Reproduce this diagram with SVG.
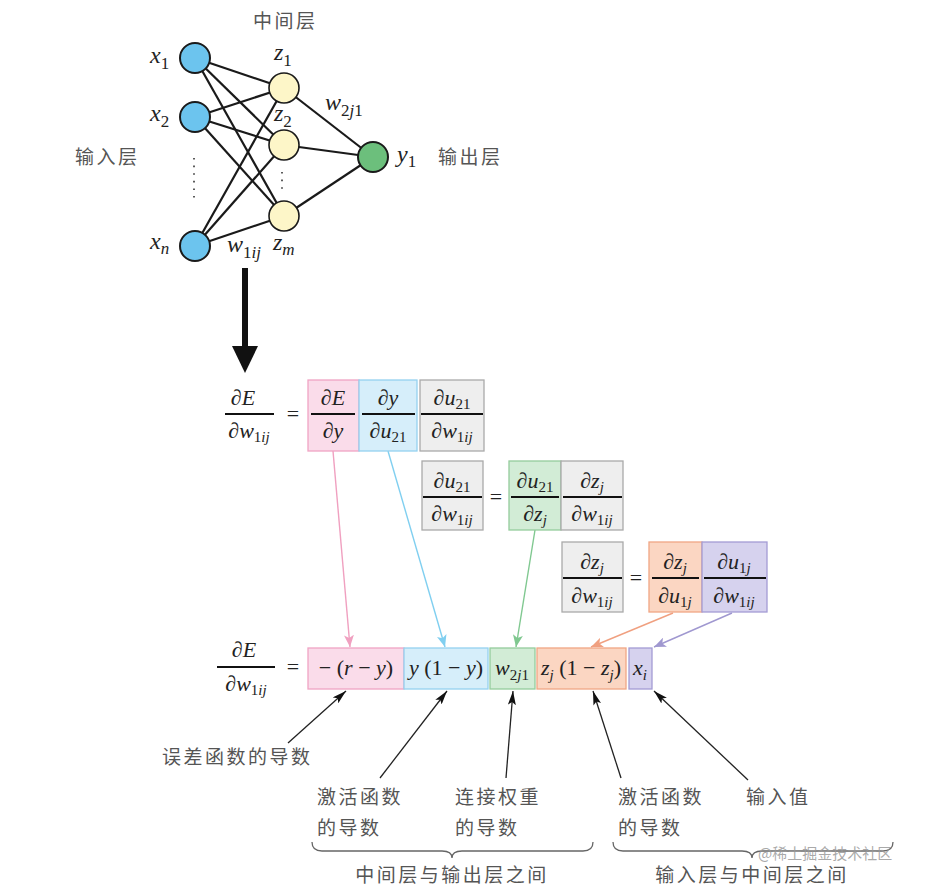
<svg xmlns="http://www.w3.org/2000/svg" width="944" height="888" viewBox="0 0 944 888">
<style>
.m{font-family:"Liberation Serif","DejaVu Serif",serif;font-size:22px;fill:#222}
.n{font-size:24px}
.i{font-style:italic}
.s{font-size:15px}
.ns{font-size:17px}
.cn{font-family:"Noto Sans CJK SC","Noto Sans",sans-serif;font-size:19px;fill:#555;letter-spacing:2.5px}
.edge{stroke:#1a1a1a;stroke-width:2.2;fill:none}
.fl{stroke:#111;stroke-width:2}
.pk{fill:#fadcea;stroke:#f0a4c4;stroke-width:1.3}
.bl{fill:#d6eefa;stroke:#94d2f0;stroke-width:1.3}
.gy{fill:#eeeeee;stroke:#aaaaaa;stroke-width:1.3}
.gn{fill:#d2ecd6;stroke:#94cc9c;stroke-width:1.3}
.or{fill:#fbd6c2;stroke:#f0a684;stroke-width:1.3}
.pu{fill:#d6d2ee;stroke:#a49cd4;stroke-width:1.3}
.blk{stroke:#222;stroke-width:1.3;fill:none}
.brace{stroke:#666;stroke-width:1.3;fill:none}
</style>
<defs>
<marker id="ab" viewBox="0 0 14 8" refX="14" refY="4" markerWidth="14" markerHeight="8" orient="auto" markerUnits="userSpaceOnUse"><path d="M0,0 L14,4 L0,8 L3,4 z" fill="#111"/></marker>
<marker id="apk" viewBox="0 0 12 10" refX="12" refY="5" markerWidth="12" markerHeight="10" orient="auto" markerUnits="userSpaceOnUse"><path d="M0,0 L12,5 L0,10 L3,5 z" fill="#f0a0c0"/></marker>
<marker id="abl" viewBox="0 0 12 10" refX="12" refY="5" markerWidth="12" markerHeight="10" orient="auto" markerUnits="userSpaceOnUse"><path d="M0,0 L12,5 L0,10 L3,5 z" fill="#80cff0"/></marker>
<marker id="agn" viewBox="0 0 12 10" refX="12" refY="5" markerWidth="12" markerHeight="10" orient="auto" markerUnits="userSpaceOnUse"><path d="M0,0 L12,5 L0,10 L3,5 z" fill="#80c890"/></marker>
<marker id="aor" viewBox="0 0 12 10" refX="12" refY="5" markerWidth="12" markerHeight="10" orient="auto" markerUnits="userSpaceOnUse"><path d="M0,0 L12,5 L0,10 L3,5 z" fill="#f0a080"/></marker>
<marker id="apu" viewBox="0 0 12 10" refX="12" refY="5" markerWidth="12" markerHeight="10" orient="auto" markerUnits="userSpaceOnUse"><path d="M0,0 L12,5 L0,10 L3,5 z" fill="#a098d0"/></marker>
</defs>
<rect width="944" height="888" fill="#ffffff"/>

<g id="connectors">
<g id="net-edges" class="edge">
<line x1="195" y1="58" x2="284" y2="88"/><line x1="195" y1="58" x2="284" y2="145"/><line x1="195" y1="58" x2="284" y2="216"/>
<line x1="195" y1="117" x2="284" y2="88"/><line x1="195" y1="117" x2="284" y2="145"/><line x1="195" y1="117" x2="284" y2="216"/>
<line x1="195" y1="246" x2="284" y2="88"/><line x1="195" y1="246" x2="284" y2="145"/><line x1="195" y1="246" x2="284" y2="216"/>
<line x1="284" y1="88" x2="373" y2="157"/><line x1="284" y1="145" x2="373" y2="157"/><line x1="284" y1="216" x2="373" y2="157"/>
</g>
<g id="big-arrow">
<rect x="242" y="268" width="6" height="80" fill="#111"/>
<path d="M232,346 L258,346 L245,373 z" fill="#111"/>
</g>
<g id="color-arrows" stroke-width="1.4" fill="none">
<line x1="333" y1="451" x2="350" y2="647" stroke="#f0a0c0" marker-end="url(#apk)"/>
<line x1="388" y1="451" x2="445" y2="647" stroke="#80cff0" marker-end="url(#abl)"/>
<line x1="535" y1="530" x2="516" y2="647" stroke="#80c890" marker-end="url(#agn)"/>
<line x1="673" y1="613" x2="591" y2="647" stroke="#f0a080" marker-end="url(#aor)"/>
<line x1="732" y1="613" x2="654" y2="647" stroke="#a098d0" marker-end="url(#apu)"/>
</g>
<g id="label-arrows" class="blk">
<line x1="288" y1="743" x2="346" y2="691" marker-end="url(#ab)"/>
<line x1="380" y1="778" x2="447" y2="691" marker-end="url(#ab)"/>
<line x1="506" y1="778" x2="513" y2="691" marker-end="url(#ab)"/>
<line x1="621" y1="778" x2="593" y2="691" marker-end="url(#ab)"/>
<line x1="748" y1="780" x2="654" y2="691" marker-end="url(#ab)"/>
</g>
</g>

<g id="node-x1"><circle cx="195" cy="58" r="15" fill="#6cc4ee" stroke="#1a1a1a" stroke-width="2"/>
<text class="m n" x="150" y="63"><tspan class="i">x</tspan><tspan class="ns" dy="6">1</tspan></text></g>
<g id="node-x2"><circle cx="195" cy="117" r="15" fill="#6cc4ee" stroke="#1a1a1a" stroke-width="2"/>
<text class="m n" x="150" y="121"><tspan class="i">x</tspan><tspan class="ns" dy="6">2</tspan></text></g>
<g id="dots-x"><line x1="194" y1="158" x2="194" y2="202" stroke="#333" stroke-width="1.6" stroke-dasharray="1.6,6"/></g>
<g id="node-xn"><circle cx="195" cy="246" r="15" fill="#6cc4ee" stroke="#1a1a1a" stroke-width="2"/>
<text class="m n" x="150" y="249"><tspan class="i">x</tspan><tspan class="ns i" dy="5">n</tspan></text></g>
<g id="node-z1"><circle cx="284" cy="88" r="15" fill="#fdf6c8" stroke="#1a1a1a" stroke-width="1.6"/>
<text class="m n" x="274" y="60"><tspan class="i">z</tspan><tspan class="ns" dy="6">1</tspan></text></g>
<g id="node-z2"><circle cx="284" cy="145" r="15" fill="#fdf6c8" stroke="#1a1a1a" stroke-width="1.6"/>
<text class="m n" x="274" y="121"><tspan class="i">z</tspan><tspan class="ns" dy="6">2</tspan></text></g>
<g id="dots-z"><line x1="282" y1="172" x2="282" y2="194" stroke="#333" stroke-width="1.6" stroke-dasharray="1.6,6"/></g>
<g id="node-zm"><circle cx="284" cy="216" r="15" fill="#fdf6c8" stroke="#1a1a1a" stroke-width="1.6"/>
<text class="m n" x="273" y="250"><tspan class="i">z</tspan><tspan class="ns i" dy="5">m</tspan></text></g>
<g id="node-y1"><circle cx="373" cy="157" r="15" fill="#6cbf7c" stroke="#1a1a1a" stroke-width="2"/>
<text class="m n" x="397" y="162"><tspan class="i">y</tspan><tspan class="ns" dy="5">1</tspan></text></g>
<g id="weights">
<text class="m n" x="325" y="110"><tspan class="i">w</tspan><tspan class="ns" dy="6">2</tspan><tspan class="ns i">j</tspan><tspan class="ns">1</tspan></text>
<text class="m n" x="227" y="252"><tspan class="i">w</tspan><tspan class="ns" dy="6">1</tspan><tspan class="ns i">ij</tspan></text>
</g>
<g id="layer-labels">
<text class="cn" x="253" y="28">中间层</text>
<text class="cn" x="75" y="164">输入层</text>
<text class="cn" x="438" y="164">输出层</text>
</g>

<g id="eq1">
<text class="m i" x="243" y="405" text-anchor="middle">∂E</text>
<line class="fl" x1="225" y1="414" x2="274" y2="414"/>
<text class="m" x="249" y="438" text-anchor="middle"><tspan class="i">∂w</tspan><tspan class="s" dy="4">1</tspan><tspan class="s i">ij</tspan></text>
<text class="m" x="293" y="421" text-anchor="middle">=</text>
<rect class="pk" x="308" y="380" width="51" height="71"/>
<rect class="bl" x="359" y="380" width="58" height="71"/>
<rect class="gy" x="420" y="380" width="64" height="71"/>
<line class="fl" x1="311" y1="414" x2="355" y2="414"/>
<line class="fl" x1="362" y1="414" x2="415" y2="414"/>
<line class="fl" x1="421" y1="414" x2="483" y2="414"/>
<text class="m i" x="333" y="405" text-anchor="middle">∂E</text>
<text class="m i" x="333" y="438" text-anchor="middle">∂y</text>
<text class="m i" x="388" y="405" text-anchor="middle">∂y</text>
<text class="m" x="388" y="438" text-anchor="middle"><tspan class="i">∂u</tspan><tspan class="s" dy="4">21</tspan></text>
<text class="m" x="452" y="405" text-anchor="middle"><tspan class="i">∂u</tspan><tspan class="s" dy="4">21</tspan></text>
<text class="m" x="452" y="438" text-anchor="middle"><tspan class="i">∂w</tspan><tspan class="s" dy="4">1</tspan><tspan class="s i">ij</tspan></text>
</g>

<g id="eq2">
<rect class="gy" x="422" y="461" width="61" height="69"/>
<line class="fl" x1="423" y1="497" x2="482" y2="497"/>
<text class="m" x="452" y="488" text-anchor="middle"><tspan class="i">∂u</tspan><tspan class="s" dy="4">21</tspan></text>
<text class="m" x="452" y="521" text-anchor="middle"><tspan class="i">∂w</tspan><tspan class="s" dy="4">1</tspan><tspan class="s i">ij</tspan></text>
<text class="m" x="496" y="504" text-anchor="middle">=</text>
<rect class="gn" x="509" y="461" width="52" height="69"/>
<rect class="gy" x="561" y="461" width="62" height="69"/>
<line class="fl" x1="511" y1="497" x2="559" y2="497"/>
<line class="fl" x1="563" y1="497" x2="622" y2="497"/>
<text class="m" x="535" y="488" text-anchor="middle"><tspan class="i">∂u</tspan><tspan class="s" dy="4">21</tspan></text>
<text class="m" x="535" y="521" text-anchor="middle"><tspan class="i">∂z</tspan><tspan class="s i" dy="4">j</tspan></text>
<text class="m" x="592" y="488" text-anchor="middle"><tspan class="i">∂z</tspan><tspan class="s i" dy="4">j</tspan></text>
<text class="m" x="592" y="521" text-anchor="middle"><tspan class="i">∂w</tspan><tspan class="s" dy="4">1</tspan><tspan class="s i">ij</tspan></text>
</g>

<g id="eq3">
<rect class="gy" x="562" y="542" width="61" height="70"/>
<line class="fl" x1="563" y1="578" x2="622" y2="578"/>
<text class="m" x="592" y="569" text-anchor="middle"><tspan class="i">∂z</tspan><tspan class="s i" dy="4">j</tspan></text>
<text class="m" x="592" y="603" text-anchor="middle"><tspan class="i">∂w</tspan><tspan class="s" dy="4">1</tspan><tspan class="s i">ij</tspan></text>
<text class="m" x="636" y="585" text-anchor="middle">=</text>
<rect class="or" x="649" y="542" width="53" height="70"/>
<rect class="pu" x="702" y="542" width="65" height="70"/>
<line class="fl" x1="652" y1="578" x2="699" y2="578"/>
<line class="fl" x1="704" y1="578" x2="766" y2="578"/>
<text class="m" x="675" y="569" text-anchor="middle"><tspan class="i">∂z</tspan><tspan class="s i" dy="4">j</tspan></text>
<text class="m" x="675" y="603" text-anchor="middle"><tspan class="i">∂u</tspan><tspan class="s" dy="4">1</tspan><tspan class="s i">j</tspan></text>
<text class="m" x="734" y="569" text-anchor="middle"><tspan class="i">∂u</tspan><tspan class="s" dy="4">1</tspan><tspan class="s i">j</tspan></text>
<text class="m" x="734" y="603" text-anchor="middle"><tspan class="i">∂w</tspan><tspan class="s" dy="4">1</tspan><tspan class="s i">ij</tspan></text>
</g>

<g id="eq-result">
<text class="m i" x="244" y="657" text-anchor="middle">∂E</text>
<line class="fl" x1="217" y1="667" x2="275" y2="667"/>
<text class="m" x="246" y="691" text-anchor="middle"><tspan class="i">∂w</tspan><tspan class="s" dy="4">1</tspan><tspan class="s i">ij</tspan></text>
<text class="m" x="293" y="674" text-anchor="middle">=</text>
</g>
<g id="term-error"><rect class="pk" x="308" y="648" width="96" height="41"/>
<text class="m" x="356" y="675" text-anchor="middle">− (<tspan class="i">r</tspan> − <tspan class="i">y</tspan>)</text></g>
<g id="term-act2"><rect class="bl" x="404" y="648" width="84" height="41"/>
<text class="m" x="446" y="675" text-anchor="middle"><tspan class="i">y</tspan> (1 − <tspan class="i">y</tspan>)</text></g>
<g id="term-weight"><rect class="gn" x="490" y="648" width="45" height="41"/>
<text class="m" x="512" y="675" text-anchor="middle"><tspan class="i">w</tspan><tspan class="s" dy="5">2</tspan><tspan class="s i">j</tspan><tspan class="s">1</tspan></text></g>
<g id="term-act1"><rect class="or" x="537" y="648" width="89" height="41"/>
<text class="m" x="581" y="675" text-anchor="middle"><tspan class="i">z</tspan><tspan class="s i" dy="5">j</tspan><tspan dy="-5"> (1 − </tspan><tspan class="i">z</tspan><tspan class="s i" dy="5">j</tspan><tspan dy="-5">)</tspan></text></g>
<g id="term-input"><rect class="pu" x="629" y="648" width="23" height="41"/>
<text class="m" x="640" y="675" text-anchor="middle"><tspan class="i">x</tspan><tspan class="s i" dy="5">i</tspan></text></g>

<g id="label-error"><text class="cn" x="162" y="764">误差函数的导数</text></g>
<g id="label-act2"><text class="cn" x="317" y="804">激活函数</text><text class="cn" x="317" y="835">的导数</text></g>
<g id="label-weight"><text class="cn" x="455" y="804">连接权重</text><text class="cn" x="455" y="835">的导数</text></g>
<g id="label-act1"><text class="cn" x="618" y="804">激活函数</text><text class="cn" x="618" y="835">的导数</text></g>
<g id="label-input"><text class="cn" x="746" y="804">输入值</text></g>
<g id="brace-hidden-output">
<path class="brace" d="M312,842 Q312,851 322,851 H442 Q452,851 452,858 Q452,851 462,851 H583 Q593,851 593,842"/>
<text class="cn" x="452" y="882" text-anchor="middle">中间层与输出层之间</text>
</g>
<g id="brace-input-hidden">
<path class="brace" d="M613,842 Q613,851 623,851 H742 Q752,851 752,858 Q752,851 762,851 H883 Q893,851 893,842"/>
<text class="cn" x="752" y="882" text-anchor="middle">输入层与中间层之间</text>
</g>
<text x="758" y="859" font-family="Noto Sans CJK SC, sans-serif" font-size="15" fill="#9a9a9a" fill-opacity="0.85">@稀土掘金技术社区</text>
</svg>
